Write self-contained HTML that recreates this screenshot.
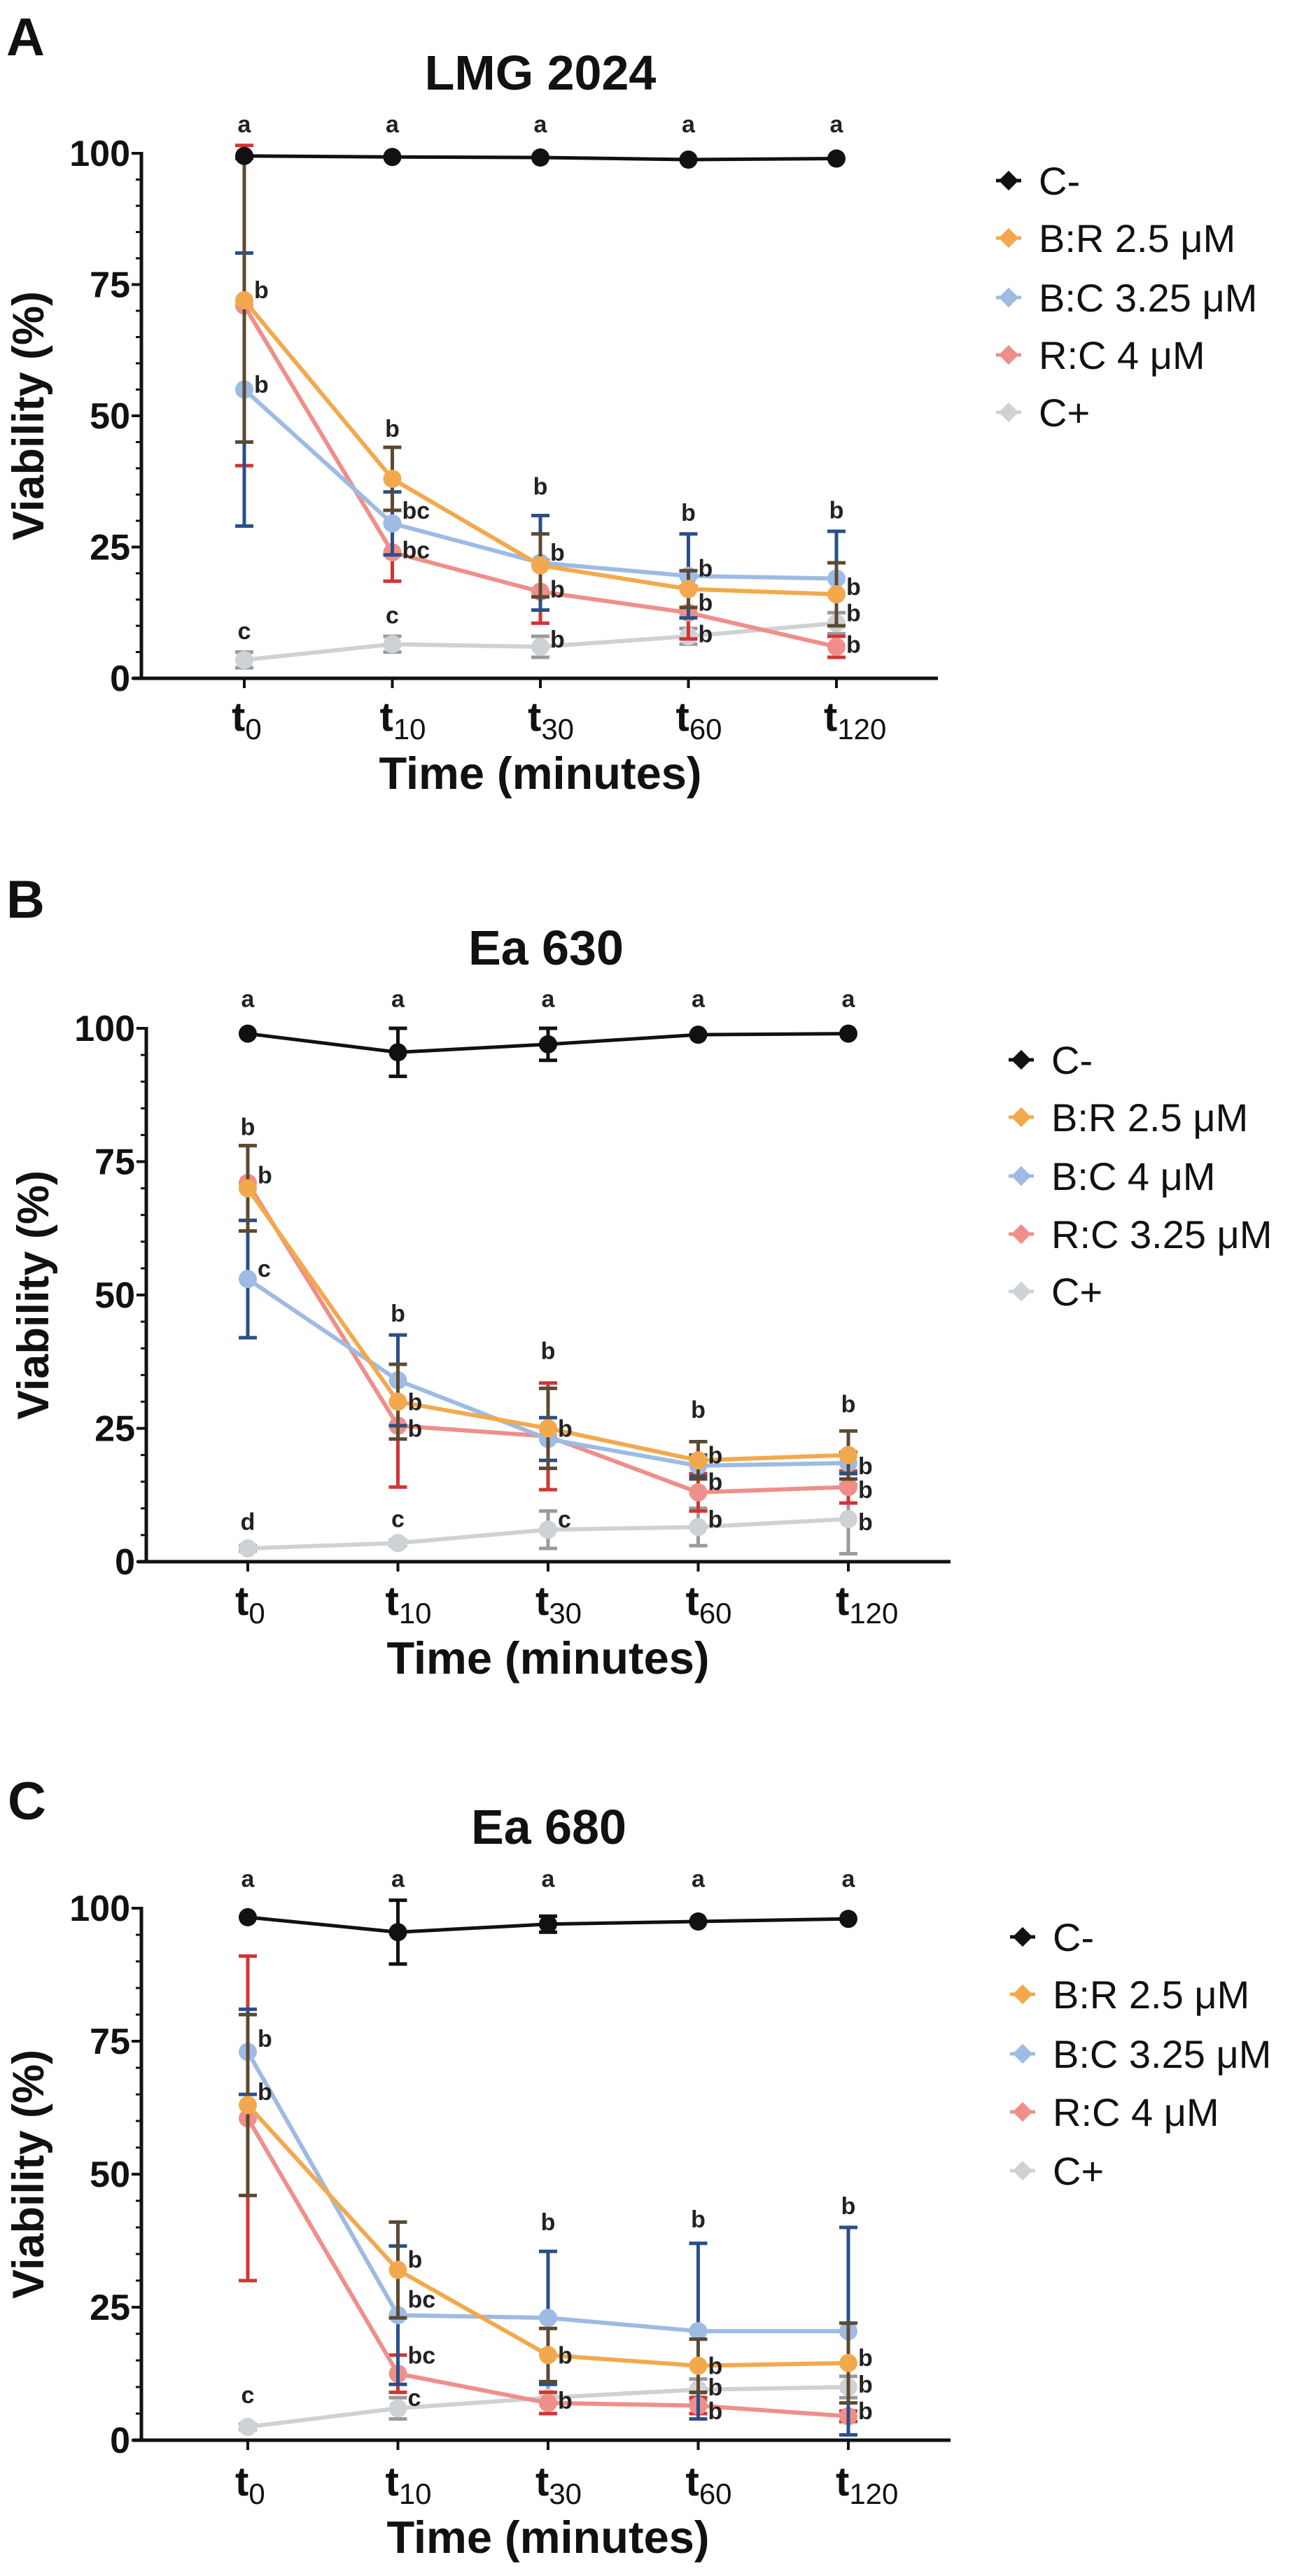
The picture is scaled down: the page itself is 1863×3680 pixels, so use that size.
<!DOCTYPE html>
<html><head><meta charset="utf-8"><style>
html,body{margin:0;padding:0;background:#fff;}
svg{display:block;font-family:"Liberation Sans",Arial,sans-serif;}
</style></head><body>
<svg id="fig" width="1863" height="3680" viewBox="0 0 1863 3680" xmlns="http://www.w3.org/2000/svg"></svg>
<script>
// ---------- DATA ----------
const categories = ["0","10","30","60","120"];
const yTicks = [0,25,50,75,100];
const seriesNames = ["C-","B:R 2.5 μM","B:C 3.25 μM","R:C 4 μM","C+"];
const seriesNamesB = ["C-","B:R 2.5 μM","B:C 4 μM","R:C 3.25 μM","C+"];
const panelTitles = ["LMG 2024","Ea 630","Ea 680"];
const panelLetters = ["A","B","C"];

// Panel A
const aCneg = [99.5,99.3,99.2,98.8,99];   const aCnegErr = [0,0,0,0,0];
const aBR = [72,38,21.5,17,16];          const aBRErr = [27,6,6,3.5,6];
const aBC = [55,29.5,22,19.5,19];        const aBCErr = [26,6,9,8,9];
const aRC = [71,24,16.5,12.5,6];         const aRCErr = [30.5,5.5,6,5,2];
const aCpos = [3.5,6.5,6,8,10.5];        const aCposErr = [1.5,1.5,2,1.5,2];
// Panel B
const bCneg = [99,95.5,97,98.8,99];      const bCnegErr = [0,4.5,3,0,0];
const bBR = [70,30,25,19,20];            const bBRErr = [8,7,7.5,3.5,4.5];
const bBC = [53,34,23,18,18.5];          const bBCErr = [11,8.5,4,2,2];
const bRC = [71,25.5,23.5,13,14];        const bRCErr = [7,11.5,10,3.5,3];
const bCpos = [2.5,3.5,6,6.5,8];         const bCposErr = [0.5,0.5,3.5,3.5,6.5];
// Panel C
const cCneg = [98.3,95.5,97,97.5,98];    const cCnegErr = [0,6,1.5,0,0];
const cBR = [63,32,16,14,14.5];          const cBRErr = [17,9,5,5,7.5];
const cBC = [73,23.5,23,20.5,20.5];      const cBCErr = [8,13,12.5,16.5,19.5];
const cRC = [60.5,12.5,7,6.5,4.5];       const cRCErr = [30.5,3.5,2,1.5,1];
const cCpos = [2.5,6,8,9.5,10];          const cCposErr = [0.5,2,3,2,2];

// annotations: [category index, y value, text, side] side: 0 above-centered, 1 right
const aAnn = [[0,104,"a",0],[1,104,"a",0],[2,104,"a",0],[3,104,"a",0],[4,104,"a",0],
 [0,74,"b",1],[0,56,"b",1],[0,7.5,"c",0],
 [1,46,"b",0],[1,32,"bc",1],[1,24.5,"bc",1],[1,10.5,"c",0],
 [2,35,"b",0],[2,24,"b",1],[2,17,"b",1],[2,7.5,"b",1],
 [3,30,"b",0],[3,21,"b",1],[3,14.5,"b",1],[3,8.5,"b",1],
 [4,30.5,"b",0],[4,17.5,"b",1],[4,12.5,"b",1],[4,6.5,"b",1]];
const bAnn = [[0,104,"a",0],[1,104,"a",0],[2,104,"a",0],[3,104,"a",0],[4,104,"a",0],
 [0,80,"b",0],[0,72.5,"b",1],[0,55,"c",1],[0,6,"d",0],
 [1,45,"b",0],[1,30,"b",1],[1,25,"b",1],[1,6.5,"c",0],
 [2,38,"b",0],[2,25,"b",1],[2,8,"c",1],
 [3,27,"b",0],[3,20,"b",1],[3,15,"b",1],[3,8,"b",1],
 [4,28,"b",0],[4,18,"b",1],[4,13.5,"b",1],[4,7.5,"b",1]];
const cAnn = [[0,104,"a",0],[1,104,"a",0],[2,104,"a",0],[3,104,"a",0],[4,104,"a",0],
 [0,75.5,"b",1],[0,65.5,"b",1],[0,7,"c",0],
 [1,34,"b",1],[1,26.5,"bc",1],[1,16,"bc",1],[1,8,"c",1],
 [2,39.5,"b",0],[2,16,"b",1],[2,7.5,"b",1],
 [3,40,"b",0],[3,14,"b",1],[3,10,"b",1],[3,5.5,"b",1],
 [4,42.5,"b",0],[4,15.5,"b",1],[4,10.5,"b",1],[4,5.5,"b",1]];

const panelsData = [
 {names:seriesNames, vals:[aCneg,aBR,aBC,aRC,aCpos], errs:[aCnegErr,aBRErr,aBCErr,aRCErr,aCposErr], ann:aAnn},
 {names:seriesNamesB, vals:[bCneg,bBR,bBC,bRC,bCpos], errs:[bCnegErr,bBRErr,bBCErr,bRCErr,bCposErr], ann:bAnn},
 {names:seriesNames, vals:[cCneg,cBR,cBC,cRC,cCpos], errs:[cCnegErr,cBRErr,cBCErr,cRCErr,cCposErr], ann:cAnn}
];

// ---------- LAYOUT ----------
const layouts = [
 {y100:219,y0:969,ax0:202,ax1:1340,x0:349,x1:1195,title:[772,103+25],letter:[39,53+26],legX:1441,legY:[258,340,425,507,589],tickBase:1044,xTitleBase:1127},
 {y100:1469,y0:2231,ax0:209,ax1:1358,x0:354,x1:1212,title:[780,1353+25],letter:[39,1285+26],legX:1459,legY:[1514,1596,1680,1763,1845],tickBase:2307,xTitleBase:2391},
 {y100:2726,y0:3486,ax0:202,ax1:1358,x0:354,x1:1212,title:[784,2609+25],letter:[41,2573+26],legX:1461,legY:[2767,2849,2934,3017,3101],tickBase:3565,xTitleBase:3647}
];
const lineColors = ["#111111","#f2a94e","#9dbbe3","#ee8f8a","#cfd2d4"];
const errColors  = ["#111111","#5b4a32","#2a4f8a","#d23535","#9a9a9a"];
const seriesKeys = ["c-neg","b-r","b-c","r-c","c-pos"];

const NS="http://www.w3.org/2000/svg";
const svg=document.getElementById('fig');
function mk(tag,attrs,parent){const e=document.createElementNS(NS,tag);for(const k in attrs)e.setAttribute(k,attrs[k]);(parent||svg).appendChild(e);return e;}

panelsData.forEach((pd,pi)=>{
  const L=layouts[pi];
  const g=mk('g',{});
  
  
  const yS=v=>L.y0-(v/100)*(L.y0-L.y100);
  const xS=i=>L.x0+i*(L.x1-L.x0)/(categories.length-1);

  const lt=mk('text',{x:L.letter[0]-30,y:L.letter[1],'font-size':76,'font-weight':'bold',fill:'#111'},g);
  lt.textContent=panelLetters[pi];
  
  
  const tt=mk('text',{x:L.title[0],y:L.title[1],'font-size':70,'font-weight':'bold','text-anchor':'middle',fill:'#111'},g);
  tt.textContent=panelTitles[pi];
  
  

  // axes
  const ya=mk('line',{x1:L.ax0,y1:yS(100)-2,x2:L.ax0,y2:L.y0,stroke:'#111','stroke-width':5},g);
  
  
  const xa=mk('line',{x1:L.ax0-12,y1:L.y0,x2:L.ax1,y2:L.y0,stroke:'#111','stroke-width':5},g);
  
  
  for(let v=0;v<=100;v+=5){
    const major=yTicks.includes(v);
    mk('line',{x1:L.ax0-(major?14:8),y1:yS(v),x2:L.ax0,y2:yS(v),stroke:'#111','stroke-width':major?4:3},g);
  }
  yTicks.forEach(v=>{
    const t=mk('text',{x:L.ax0-16,y:yS(v)+18,'font-size':52,'font-weight':'bold','text-anchor':'end',fill:'#111'},g);
    t.textContent=v;
    
    
  });
  const yt=mk('text',{x:0,y:0,'font-size':63,'font-weight':'bold','text-anchor':'middle',fill:'#111',transform:`translate(${L.ax0-140},${(yS(0)+yS(100))/2}) rotate(-90)`},g);
  yt.textContent='Viability (%)';
  
  
  categories.forEach((c,i)=>{
    mk('line',{x1:xS(i),y1:L.y0,x2:xS(i),y2:L.y0+14,stroke:'#111','stroke-width':4},g);
    const t=mk('text',{x:xS(i)-18,y:L.tickBase,'font-size':58,'font-weight':'bold',fill:'#111'},g);
    
    
    const a=mk('tspan',{},t);a.textContent='t';
    const b=mk('tspan',{dy:12,'font-size':42,'font-weight':'normal'},t);b.textContent=c;
  });
  const xt=mk('text',{x:(L.x0+L.x1)/2,y:L.xTitleBase,'font-size':65,'font-weight':'bold','text-anchor':'middle',fill:'#111'},g);
  xt.textContent='Time (minutes)';
  
  

  // series: draw from back (C+) to front (C-)
  [4,3,2,1,0].forEach(si=>{
    const vals=pd.vals[si], errs=pd.errs[si];
    const sg=mk('g',{},g);
    
    
    vals.forEach((v,i)=>{
      const e=errs[i]; if(e>0){
        const x=xS(i), y1=yS(v+e), y2=yS(v-e);
        mk('line',{x1:x,y1:y1,x2:x,y2:y2,stroke:errColors[si],'stroke-width':5},sg);
        mk('line',{x1:x-13,y1:y1,x2:x+13,y2:y1,stroke:errColors[si],'stroke-width':5},sg);
        mk('line',{x1:x-13,y1:y2,x2:x+13,y2:y2,stroke:errColors[si],'stroke-width':5},sg);
      }
    });
    const pts=vals.map((v,i)=>xS(i)+','+yS(v)).join(' ');
    const pl=mk('polyline',{points:pts,fill:'none',stroke:lineColors[si],'stroke-width':si===0?5:6},sg);
    
    
    vals.forEach((v,i)=>{
      const c=mk('circle',{cx:xS(i),cy:yS(v),r:13,fill:lineColors[si]},sg);
      
      
    });
  });

  // annotations
  pd.ann.forEach(a=>{
    const x=xS(a[0])+(a[3]?14:0);
    const t=mk('text',{x:x,y:yS(a[1])+(a[3]?12:0),'font-size':34,'font-weight':'bold','text-anchor':a[3]?'start':'middle',fill:'#222'},g);
    t.textContent=a[2];
    
    
  });

  // legend
  pd.names.forEach((n,si)=>{
    const lg=mk('g',{},g);
    
    
    const y=L.legY[si];
    mk('line',{x1:L.legX-18,y1:y,x2:L.legX+18,y2:y,stroke:lineColors[si],'stroke-width':5},lg);
    mk('rect',{x:L.legX-10,y:y-10,width:20,height:20,fill:lineColors[si],transform:`rotate(45 ${L.legX} ${y})`},lg);
    const t=mk('text',{x:L.legX+43,y:y+20,'font-size':56,fill:'#111'},lg);
    t.textContent=n;
  });
});
</script>
</body></html>
